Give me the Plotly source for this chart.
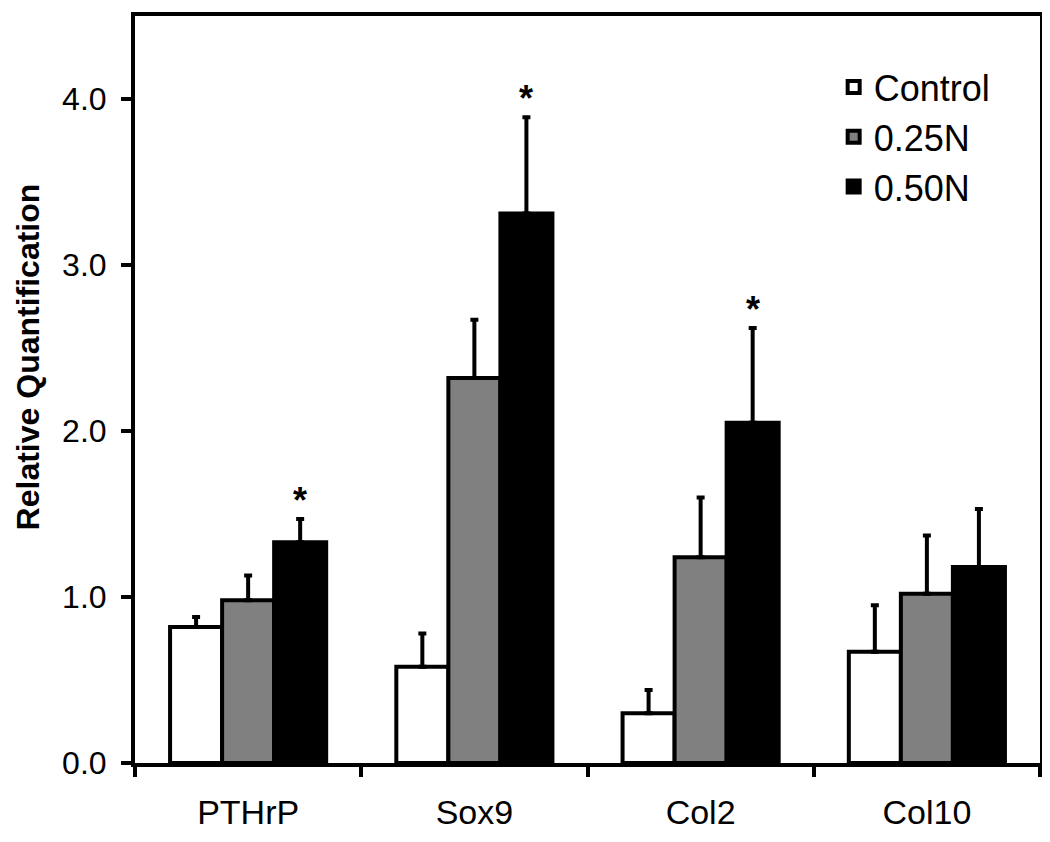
import plotly.graph_objects as go

genes = ["PTHrP", "Sox9", "Col2", "Col10"]
groups = ["Control", "0.25N", "0.50N"]

control = [0.82, 0.58, 0.30, 0.67]
control_err = [0.06, 0.20, 0.14, 0.28]
n025 = [0.98, 2.32, 1.24, 1.02]
n025_err = [0.15, 0.35, 0.36, 0.35]
n050 = [1.33, 3.31, 2.05, 1.18]
n050_err = [0.14, 0.58, 0.57, 0.35]

# genes with significant 0.50N result
starred = ["PTHrP", "Sox9", "Col2"]

FONT = "Arial, Liberation Sans, sans-serif"
fills = ["#ffffff", "#808080", "#000000"]

fig = go.Figure()
for name, vals, errs, fill in zip(groups, [control, n025, n050],
                                  [control_err, n025_err, n050_err], fills):
    fig.add_trace(go.Bar(
        x=genes, y=vals, name=name,
        marker=dict(color=fill, line=dict(color="black", width=4)),
        error_y=dict(type="data", array=errs, arrayminus=[0] * len(errs),
                     symmetric=False, color="black", thickness=4, width=4),
    ))

# asterisks over the 0.50N bars
for g in starred:
    i = genes.index(g)
    fig.add_annotation(x=g, y=n050[i] + n050_err[i], text="<b>*</b>",
                       showarrow=False, xshift=52, yshift=-4, yanchor="bottom",
                       font=dict(family=FONT, size=36, color="black"))

# y title placed by hand (sits above the plot centre in the original)
fig.add_annotation(xref="paper", yref="paper", x=0, y=0.543, xshift=-107,
                   text="<b>Relative Quantification</b>", textangle=-90,
                   showarrow=False, xanchor="center", yanchor="middle",
                   borderpad=0,
                   font=dict(family=FONT, size=32, color="black"))

# page body adds an 8px margin, so the figure is 8px smaller than the window
fig.update_layout(
    width=1042, height=834,
    margin=dict(l=127, r=10, t=4, b=79),
    paper_bgcolor="white", plot_bgcolor="white",
    barmode="group", bargap=0.31, bargroupgap=0,
    font=dict(family=FONT, size=32, color="black"),
    legend=dict(x=0.772, y=0.945, xanchor="left", yanchor="top",
                font=dict(size=36), bgcolor="rgba(0,0,0,0)",
                itemwidth=30),
    showlegend=True,
)
fig.update_xaxes(
    type="category", tickson="boundaries", ticks="outside", ticklen=10,
    tickwidth=4, tickcolor="black", showline=True, linewidth=4,
    linecolor="black", mirror=True, showgrid=False,
    ticklabelstandoff=16, tickfont=dict(size=34),
)
fig.update_yaxes(
    range=[0, 4.5], tickvals=[0, 1, 2, 3, 4], tickformat=".1f",
    ticks="outside", ticklen=10, tickwidth=4, tickcolor="black",
    showline=True, linewidth=4, linecolor="black", mirror=True,
    showgrid=False, zeroline=False, ticklabelstandoff=8,
)

fig.write_html("out.html")
